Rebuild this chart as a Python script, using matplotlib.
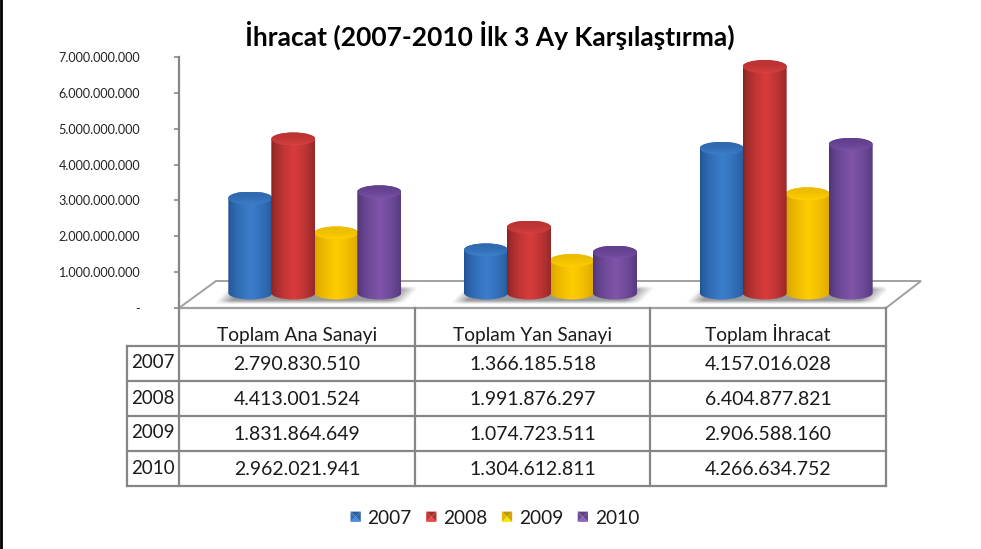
import numpy as np
import matplotlib
matplotlib.use("Agg")
import matplotlib.pyplot as plt
from matplotlib.path import Path
from matplotlib.patches import PathPatch, Patch, Polygon
from matplotlib.legend_handler import HandlerBase
from matplotlib.ticker import FuncFormatter
from matplotlib.colors import to_rgb

# ---- data ----
title = "İhracat (2007-2010 İlk 3 Ay Karşılaştırma)"
categories = ["Toplam Ana Sanayi", "Toplam Yan Sanayi", "Toplam İhracat"]
years = ["2007", "2008", "2009", "2010"]
v2007 = [2790830510, 1366185518, 4157016028]
v2008 = [4413001524, 1991876297, 6404877821]
v2009 = [1831864649, 1074723511, 2906588160]
v2010 = [2962021941, 1304612811, 4266634752]
series = [v2007, v2008, v2009, v2010]
yticks = [0, 1e9, 2e9, 3e9, 4e9, 5e9, 6e9, 7e9]

# ---- style ----
FONT = "Lato"
W, H = 981, 549
GRAY = "#868686"
TXT = "#1a1a1a"
edge_cols = ["#1f508f", "#7f2222", "#d09c00", "#49306f"]
mid_cols = ["#3b7dcb", "#d93c3c", "#ffcc00", "#7f55ab"]
cap_cols = ["#2f69b0", "#bd3232", "#ecbc00", "#62408f"]
rim_cols = ["#3f80cc", "#d64242", "#ffd000", "#7a52a8"]
draw_order = [2, 0, 1, 3]

PX_L, PX_R, PX_T, PX_B = 179, 886, 57, 308
px_per_cat = (PX_R - PX_L) / 3
px_per_val = (PX_B - PX_T) / 7e9
SHIFT = 18 / px_per_cat          # depth shift of bars on the floor
STEP = 43 / px_per_cat
BW = 44 / px_per_cat
BASE = 15 / px_per_val           # bottom ellipse centre above the axis
LIFT = 8.4 / px_per_val          # top ellipse offset from the axis scale
SCALE = 1.015                    # depth scale
RY = 6.5 / px_per_val            # ellipse half height

fig = plt.figure(figsize=(W / 100, H / 100), dpi=100, facecolor="white")
bg = fig.add_axes([0, 0, 1, 1], zorder=0)
bg.set_xlim(0, W)
bg.set_ylim(H, 0)
bg.axis("off")
ax = fig.add_axes([PX_L / W, 1 - PX_B / H, (PX_R - PX_L) / W, (PX_B - PX_T) / H], zorder=2)
ax.patch.set_alpha(0)

lw = 1.6
# left image border
bg.plot([0.5, 0.5], [0, H], color="black", lw=2)
# floor
bg.add_patch(Polygon([(179, 308), (216, 281), (921, 281), (886, 308)], closed=True,
                     facecolor="white", edgecolor="#a0a0a0", lw=1.4, zorder=1))
# table
rows_y = [346, 381, 416, 451, 486]
cols_x = [179, 415, 650, 886]
for y in rows_y:
    bg.plot([127, 886], [y, y], color=GRAY, lw=lw, zorder=2, solid_capstyle="projecting")
bg.plot([179, 886], [308, 308], color="#a0a0a0", lw=lw, zorder=2)
bg.plot([127, 127], [346, 486], color=GRAY, lw=lw, zorder=2, solid_capstyle="projecting")
for x in cols_x:
    bg.plot([x, x], [308, 486], color=GRAY, lw=lw, zorder=2)
for j, c in enumerate(categories):
    xc = (cols_x[j] + cols_x[j + 1]) / 2
    bg.text(xc, 341, c, ha="center", va="baseline", fontsize=13.8, family=FONT, color=TXT)
    for i, s in enumerate(series):
        txt = f"{s[j]:,}".replace(",", ".")
        bg.text(xc, 370 + 35 * i, txt, ha="center", va="baseline", fontsize=14, family=FONT, color=TXT)
for i, yr in enumerate(years):
    bg.text(131, 368.5 + 35 * i, yr, ha="left", va="baseline", fontsize=13.5, family=FONT, color=TXT)

bg.text(490, 35, title, ha="center", va="center", fontsize=19, fontweight="bold", family=FONT, color="black")


def gradient(edge, mid, n=64):
    t = np.linspace(0, 1, n)
    k = np.clip(1 - np.abs(t - 0.52) / 0.52, 0, 1) ** 0.55
    e, m = np.array(to_rgb(edge)), np.array(to_rgb(mid))
    return (e[None, :] * (1 - k[:, None]) + m[None, :] * k[:, None])[None, :, :]


def cylinder(x, val, i):
    x0, x1 = x - BW / 2, x + BW / 2
    y0, y1 = BASE, LIFT + val * SCALE
    kap = 0.5523
    rx = BW / 2
    verts = [(x0, y1), (x0, y0),
             (x0, y0 - kap * RY), (x - kap * rx, y0 - RY), (x, y0 - RY),
             (x + kap * rx, y0 - RY), (x1, y0 - kap * RY), (x1, y0),
             (x1, y1),
             (x1, y1 + kap * RY), (x + kap * rx, y1 + RY), (x, y1 + RY),
             (x - kap * rx, y1 + RY), (x0, y1 + kap * RY), (x0, y1), (x0, y1)]
    codes = [Path.MOVETO, Path.LINETO, Path.CURVE4, Path.CURVE4, Path.CURVE4,
             Path.CURVE4, Path.CURVE4, Path.CURVE4, Path.LINETO,
             Path.CURVE4, Path.CURVE4, Path.CURVE4, Path.CURVE4, Path.CURVE4, Path.CURVE4,
             Path.CLOSEPOLY]
    body = PathPatch(Path(verts, codes), transform=ax.transData, fc="none", ec="none")
    ax.add_patch(body)
    im = ax.imshow(gradient(edge_cols[i], mid_cols[i]), extent=(x0, x1, y0 - RY, y1 + RY),
                   aspect="auto", interpolation="bilinear", zorder=3 + draw_order.index(i) * 0.1)
    im.set_clip_path(body)
    # top cap
    cv = [(x0, y1), (x0, y1 + kap * RY), (x - kap * rx, y1 + RY), (x, y1 + RY),
          (x + kap * rx, y1 + RY), (x1, y1 + kap * RY), (x1, y1),
          (x1, y1 - kap * RY), (x + kap * rx, y1 - RY), (x, y1 - RY),
          (x - kap * rx, y1 - RY), (x0, y1 - kap * RY), (x0, y1), (x0, y1)]
    cc = [Path.MOVETO] + [Path.CURVE4] * 12 + [Path.CLOSEPOLY]
    cap = PathPatch(Path(cv, cc), transform=ax.transData, fc="none", ec="none")
    ax.add_patch(cap)
    t = np.linspace(0, 1, 32)[:, None, None] ** 2
    arr = (1 - t) * np.array(to_rgb(cap_cols[i]))[None, None, :] + t * np.array(to_rgb(rim_cols[i]))[None, None, :]
    im2 = ax.imshow(arr, extent=(x0, x1, y1 - RY, y1 + RY), origin="upper", aspect="auto",
                    interpolation="bilinear", zorder=3.05 + draw_order.index(i) * 0.1)
    im2.set_clip_path(cap)


def shadow(xc):
    h, w = 48, 320
    yy, xx = np.mgrid[0:h, 0:w]
    u = (xx + 0.5) / w
    v = (yy + 0.5) / h          # 0 = top
    skew = (1 - v) * 0.08
    left = np.clip((u - 0.02 - skew) / 0.07, 0, 1)
    right = np.clip((0.98 - 0.08 + skew - u) / 0.08, 0, 1)
    top = np.clip(v / 0.2, 0, 1)
    bot = np.clip((1 - v) / 0.2, 0, 1)
    a = left * right * top * bot * 0.68
    rgba = np.zeros((h, w, 4))
    rgba[..., :3] = 0.42
    rgba[..., 3] = a
    half = 108 / px_per_cat
    ax.imshow(rgba, extent=(xc - half, xc + half, 4.5 / px_per_val, 22 / px_per_val),
              aspect="auto", interpolation="bilinear", zorder=2)


for j in range(3):
    cx = j + 0.5 + SHIFT
    shadow(cx + 2 / px_per_cat)
    for i in draw_order:
        cylinder(cx + (i - 1.5) * STEP, series[i][j], i)

ax.set_xlim(0, 3)
ax.set_ylim(0, 7e9)
ax.set_xticks([])
ax.set_yticks(yticks)
ax.yaxis.set_major_formatter(FuncFormatter(lambda v, p: "-" if v == 0 else f"{int(v):,}".replace(",", ".")))
ax.tick_params(axis="y", length=3.5, width=1.2, color=GRAY, pad=24.5, labelsize=9.1, labelcolor="#222222")
for lab in ax.get_yticklabels():
    lab.set_family(FONT)
for s in ["top", "right", "bottom"]:
    ax.spines[s].set_visible(False)
ax.spines["left"].set_color(GRAY)
ax.spines["left"].set_linewidth(lw)


class Bevel(HandlerBase):
    def create_artists(self, legend, orig, xd, yd, w, h, fs, trans):
        c = orig.get_facecolor()
        base = np.array(c[:3])
        cx, cy = -xd + w / 2, -yd + h / 2
        side = 7.4
        x0, x1, y0, y1 = cx - side / 2, cx + side / 2, cy - side / 2, cy + side / 2
        ctr = (cx, cy)
        out = []
        for pts, f in [([(x0, y1), (x1, y1), ctr], 0.75),
                       ([(x0, y0), (x1, y0), ctr], 1.12),
                       ([(x0, y0), (x0, y1), ctr], 0.9),
                       ([(x1, y0), (x1, y1), ctr], 0.82)]:
            out.append(Polygon(pts, closed=True, fc=np.clip(base * f, 0, 1), ec="none", transform=trans))
        return out


handles = [Patch(facecolor=mid_cols[i]) for i in range(4)]
leg = bg.legend(handles, years, handler_map={Patch: Bevel()}, ncol=4, loc="center",
                bbox_to_anchor=(494.5 / W, 1 - 518 / H), bbox_transform=fig.transFigure,
                frameon=False, prop={"family": FONT, "size": 13.8}, labelcolor=TXT,
                handlelength=0.6, handleheight=0.6, handletextpad=0.32, columnspacing=0.72,
                borderpad=0, borderaxespad=0)

fig.savefig("out.png", dpi=100, facecolor="white")
